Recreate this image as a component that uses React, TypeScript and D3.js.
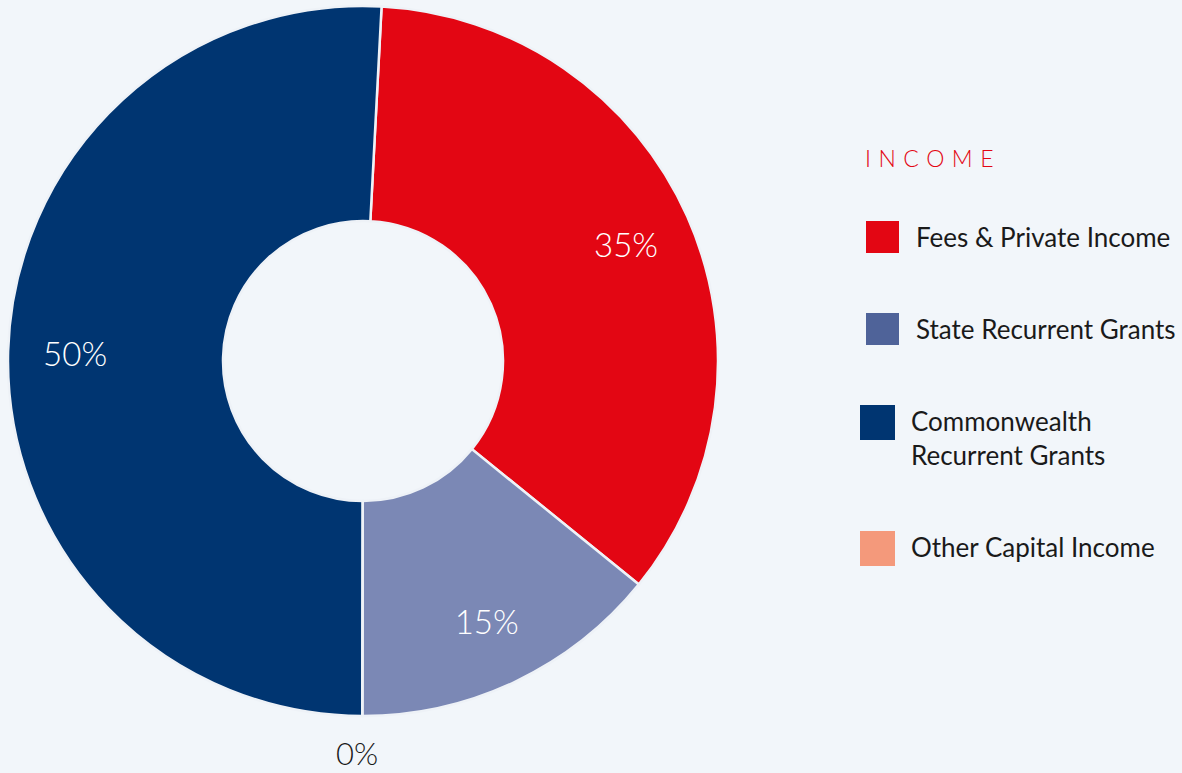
import * as d3 from "d3";
import React, { useEffect } from "react";

// income shares, legend order
const categories = [
  "Fees & Private Income",
  "State Recurrent Grants",
  "Commonwealth Recurrent Grants",
  "Other Capital Income",
];
const legendLines = [
  ["Fees & Private Income"],
  ["State Recurrent Grants"],
  ["Commonwealth", "Recurrent Grants"],
  ["Other Capital Income"],
];
const shares = [35.0, 14.2, 50.8, 0];
const shareLabels = ["35%", "15%", "50%", "0%"];
// order the slices run clockwise from the top
const drawOrder = [0, 1, 3, 2];

const sliceColors = ["#e30613", "#7b88b5", "#003571", "#f4997b"];
const legendColors = ["#e30613", "#4f6399", "#003571", "#f4997b"];

const width = 1182;
const height = 773;
const cx = 363;
const cy = 361;
const outerR = 355;
const innerR = 140;
const labelR = 288;
const startDeg = 3;
const font = "Lato, 'Noto Sans', sans-serif";

const pie = d3
  .pie<number>()
  .value((i) => shares[i])
  .sort((a, b) => drawOrder.indexOf(a) - drawOrder.indexOf(b))
  .startAngle((startDeg * Math.PI) / 180)
  .endAngle(2 * Math.PI + (startDeg * Math.PI) / 180);

const arc = d3.arc<d3.PieArcDatum<number>>().innerRadius(innerR).outerRadius(outerR);
const labelArc = d3.arc<d3.PieArcDatum<number>>().innerRadius(labelR).outerRadius(labelR);

export default function App() {
  useEffect(() => {
    document.body.style.margin = "0";
    document.body.style.background = "#f2f6fa";
  }, []);

  const arcs = pie(d3.range(categories.length));

  // legend rows
  let cursor = 237;
  const rows = legendLines.map((lines, i) => {
    const y = cursor;
    cursor += 92 + (lines.length - 1) * 34;
    return { i, y, lines };
  });

  return (
    <svg width={width} height={height} style={{ display: "block", background: "#f2f6fa" }}>
      <g transform={`translate(${cx},${cy})`}>
        {arcs.map((a) => (
          <path key={a.data} d={arc(a) ?? ""} fill={sliceColors[a.data]} stroke="#eef2f7" strokeWidth={2.5} />
        ))}
        {arcs.map((a) => {
          const zero = a.endAngle - a.startAngle < 0.01;
          let [x, y] = labelArc.centroid(a);
          if (zero) {
            const r = outerR + 37;
            const ang = (a.startAngle + a.endAngle) / 2;
            x = Math.sin(ang) * r - 5;
            y = -Math.cos(ang) * r;
          }
          return (
            <text
              key={a.data}
              x={x}
              y={y}
              textAnchor="middle"
              dominantBaseline="central"
              fontFamily={font}
              fontWeight={300}
              fontSize={zero ? 31 : 33}
              fill={zero ? "#1a1a1a" : "#ffffff"}
            >
              {shareLabels[a.data]}
            </text>
          );
        })}
      </g>
      <text x={865} y={167} fontFamily={font} fontWeight={300} fontSize={23} letterSpacing={7.5} fill="#e30613">
        INCOME
      </text>
      {rows.map(({ i, y, lines }) => (
        <g key={i}>
          <rect x={i < 2 ? 866 : 860} y={y - 16} width={i < 2 ? 33 : 35} height={i < 2 ? 32 : 35} fill={legendColors[i]} />
          {lines.map((l, k) => (
            <text
              key={k}
              x={i < 2 ? 916 : 911}
              y={y + k * 34}
              dominantBaseline="central"
              fontFamily={font}
              fontSize={26}
              fill="#1a1a1a"
            >
              {l}
            </text>
          ))}
        </g>
      ))}
    </svg>
  );
}
